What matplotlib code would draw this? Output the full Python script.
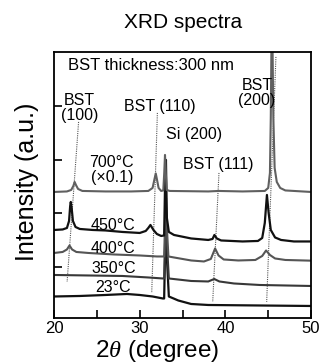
import matplotlib
matplotlib.use("Agg")
import matplotlib.pyplot as plt

plt.rcParams['font.family'] = ['Liberation Sans', 'DejaVu Sans']
plt.rcParams['mathtext.fontset'] = 'custom'
plt.rcParams['mathtext.it'] = 'Liberation Serif:italic'

# spectra (2theta in degree, intensity in a.u. with offsets)
x_700 = [20.0, 21.5, 22.0, 22.25, 22.4, 22.55, 22.8, 23.3, 26.0, 29.0, 31.0, 31.5, 31.7, 31.87, 32.0, 32.2, 32.5,
         32.75, 32.86, 32.95, 33.04, 33.15, 33.5, 38.0, 39.2, 42.0, 44.6, 45.0, 45.2, 45.3, 45.38, 45.5, 45.6, 45.75,
         46.0, 46.4, 47.0, 50.0]
y_700 = [126, 126.5, 128, 132, 136, 133, 129, 127, 126.5, 126.5, 127, 130, 138, 144.5, 139, 130, 127,
         127.5, 145, 163, 145, 128, 127, 126.5, 127, 126.5, 127, 130, 145, 200, 275, 275, 200, 150,
         136, 130, 127.5, 126]

x_450 = [20.0, 21.0, 21.5, 21.75, 21.88, 21.95, 22.05, 22.2, 22.5, 23.0, 24.5, 26.0, 28.0, 30.0, 30.7, 31.0, 31.25,
         31.6, 32.0, 32.5, 32.85, 32.97, 33.06, 33.17, 33.4, 34.0, 36.0, 38.0, 38.5, 38.72, 39.0, 39.5, 42.0,
         43.8, 44.3, 44.6, 44.85, 45.05, 45.3, 45.8, 46.5, 48.0, 50.0]
y_450 = [88, 88.5, 90, 97, 112, 116, 110, 97, 91, 89, 88, 87.5, 86, 85, 87, 90, 93,
         88, 84, 82, 82.5, 140, 158, 100, 86, 83, 79.5, 78, 79, 83, 79.5, 77.5, 76.5,
         77, 80, 95, 123, 105, 88, 80.5, 78, 76.5, 76.5]

x_400 = [20.0, 21.0, 21.5, 21.8, 22.1, 22.6, 24.0, 27.0, 30.0, 32.0, 32.85, 32.97, 33.06, 33.17, 33.35, 34.0, 36.0,
         37.5, 38.3, 38.8, 39.2, 39.8, 41.5, 43.5, 44.3, 44.75, 45.2, 45.8, 47.0, 50.0]
y_400 = [65, 66, 68.5, 72.5, 68.5, 66, 65, 63.5, 62.5, 61.5, 61.5, 100, 112, 90, 61.5, 60.5, 57.5,
         56.5, 59, 69.5, 62.5, 58.5, 57.5, 58, 62, 67.5, 63, 59.5, 58, 57.3]

x_350 = [20.0, 24.0, 28.0, 31.0, 32.7, 32.85, 32.97, 33.06, 33.17, 33.4, 36.0, 38.0, 38.7, 39.3, 41.0, 44.0, 50.0]
y_350 = [43, 42.5, 42, 40.5, 39.5, 39.5, 80, 95, 75, 39.5, 37, 36.5, 39, 36.5, 34.5, 33, 32]

x_23 = [20.0, 23.0, 26.0, 28.5, 30.0, 31.5, 32.7, 32.85, 32.97, 33.06, 33.17, 33.4, 34.5, 36.0, 38.0, 44.0, 50.0]
y_23 = [21.5, 22, 23, 24, 23, 21.5, 19.5, 19.5, 70, 120, 60, 21.5, 17.5, 14, 13, 12.5, 12]

# dotted guide lines (peak shifts): top point, bottom point
guide_x = [[22.86, 21.52], [32.06, 31.4], [39.25, 38.52], [45.9, 44.82]]
guide_y = [[196, 36], [205, 25], [145, 16], [261, 16]]

fig = plt.figure(figsize=(3.2, 3.63), dpi=100)
ax = fig.add_axes([0.169, 0.124, 0.803, 0.733])

for gx, gy in zip(guide_x, guide_y):
    ax.plot(gx, gy, color='#555555', lw=0.8, ls=(0, (1, 1)))

ax.plot(x_23, y_23, color='#111111', lw=1.6)
ax.plot(x_350, y_350, color='#383838', lw=1.5)
ax.plot(x_400, y_400, color='#555555', lw=1.5)
ax.plot(x_450, y_450, color='#111111', lw=1.6)
ax.plot(x_700, y_700, color='#606060', lw=1.5)

ax.set_xlim(20, 50)
ax.set_ylim(0, 266)
ax.set_xticks([20, 25, 30, 35, 40, 45, 50])
ax.set_xticklabels(['20', '', '30', '', '40', '', '50'], fontsize=12)
ax.set_yticks([51, 105, 158, 212])
ax.set_yticklabels([])
ax.tick_params(axis='x', direction='in', length=6, width=1.2, pad=2)
ax.tick_params(axis='y', direction='in', length=6, width=1.2)
for s in ax.spines.values():
    s.set_linewidth(1.3)

ax.text(21.63, 252, 'BST thickness:300 nm', fontsize=12, ha='left', va='center')
ax.text(23.0, 210, 'BST\n(100)', fontsize=11.5, ha='center', va='center', linespacing=1.05)
ax.text(28.2, 211, 'BST (110)', fontsize=11.5, ha='left', va='center')
ax.text(33.04, 183, 'Si (200)', fontsize=11.5, ha='left', va='center')
ax.text(35.1, 153, 'BST (111)', fontsize=11.5, ha='left', va='center')
ax.text(43.7, 225, 'BST\n(200)', fontsize=11.5, ha='center', va='center', linespacing=1.05)
ax.text(26.73, 148, '700°C\n(×0.1)', fontsize=11.5, ha='center', va='center', linespacing=1.05)
ax.text(26.92, 92, '450°C', fontsize=11.5, ha='center', va='center')
ax.text(26.92, 69.5, '400°C', fontsize=11.5, ha='center', va='center')
ax.text(26.92, 49.5, '350°C', fontsize=11.5, ha='center', va='center')
ax.text(26.92, 30, '23°C', fontsize=11.5, ha='center', va='center')

fig.text(0.572, 0.939, 'XRD spectra', fontsize=15, ha='center', va='center')
fig.text(0.083, 0.5, 'Intensity (a.u.)', fontsize=18, rotation=90, ha='center', va='center')
fig.text(0.49, 0.034, r'2$\theta$ (degree)', fontsize=17.5, ha='center', va='center')

fig.savefig('out.png', dpi=100)
